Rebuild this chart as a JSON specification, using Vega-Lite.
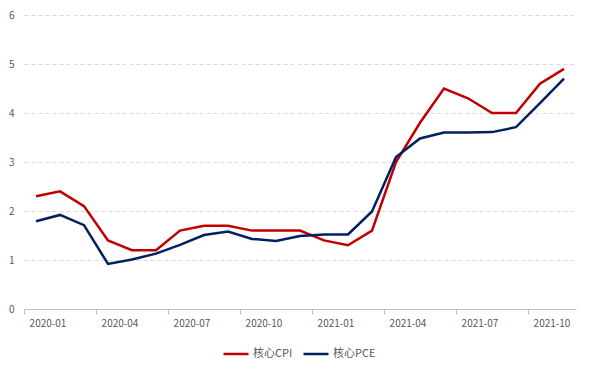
{
  "$schema": "https://vega.github.io/schema/vega-lite/v6.json",
  "width": 552,
  "height": 294,
  "autosize": {"type": "none"},
  "padding": {"left": 24, "top": 15, "right": 15, "bottom": 63},
  "background": "white",
  "config": {
    "view": {"stroke": null},
    "font": "Noto Sans CJK SC"
  },
  "data": {
    "values": [
      {"month": "2020-01", "series": "核心CPI", "value": 2.3},
      {"month": "2020-02", "series": "核心CPI", "value": 2.4},
      {"month": "2020-03", "series": "核心CPI", "value": 2.1},
      {"month": "2020-04", "series": "核心CPI", "value": 1.4},
      {"month": "2020-05", "series": "核心CPI", "value": 1.2},
      {"month": "2020-06", "series": "核心CPI", "value": 1.2},
      {"month": "2020-07", "series": "核心CPI", "value": 1.6},
      {"month": "2020-08", "series": "核心CPI", "value": 1.7},
      {"month": "2020-09", "series": "核心CPI", "value": 1.7},
      {"month": "2020-10", "series": "核心CPI", "value": 1.6},
      {"month": "2020-11", "series": "核心CPI", "value": 1.6},
      {"month": "2020-12", "series": "核心CPI", "value": 1.6},
      {"month": "2021-01", "series": "核心CPI", "value": 1.4},
      {"month": "2021-02", "series": "核心CPI", "value": 1.3},
      {"month": "2021-03", "series": "核心CPI", "value": 1.6},
      {"month": "2021-04", "series": "核心CPI", "value": 3.0},
      {"month": "2021-05", "series": "核心CPI", "value": 3.8},
      {"month": "2021-06", "series": "核心CPI", "value": 4.5},
      {"month": "2021-07", "series": "核心CPI", "value": 4.3},
      {"month": "2021-08", "series": "核心CPI", "value": 4.0},
      {"month": "2021-09", "series": "核心CPI", "value": 4.0},
      {"month": "2021-10", "series": "核心CPI", "value": 4.6},
      {"month": "2021-11", "series": "核心CPI", "value": 4.9},
      {"month": "2020-01", "series": "核心PCE", "value": 1.79},
      {"month": "2020-02", "series": "核心PCE", "value": 1.92},
      {"month": "2020-03", "series": "核心PCE", "value": 1.71},
      {"month": "2020-04", "series": "核心PCE", "value": 0.92},
      {"month": "2020-05", "series": "核心PCE", "value": 1.01},
      {"month": "2020-06", "series": "核心PCE", "value": 1.13},
      {"month": "2020-07", "series": "核心PCE", "value": 1.31},
      {"month": "2020-08", "series": "核心PCE", "value": 1.51},
      {"month": "2020-09", "series": "核心PCE", "value": 1.58},
      {"month": "2020-10", "series": "核心PCE", "value": 1.43},
      {"month": "2020-11", "series": "核心PCE", "value": 1.39},
      {"month": "2020-12", "series": "核心PCE", "value": 1.49},
      {"month": "2021-01", "series": "核心PCE", "value": 1.52},
      {"month": "2021-02", "series": "核心PCE", "value": 1.52},
      {"month": "2021-03", "series": "核心PCE", "value": 1.99},
      {"month": "2021-04", "series": "核心PCE", "value": 3.1},
      {"month": "2021-05", "series": "核心PCE", "value": 3.48},
      {"month": "2021-06", "series": "核心PCE", "value": 3.6},
      {"month": "2021-07", "series": "核心PCE", "value": 3.6},
      {"month": "2021-08", "series": "核心PCE", "value": 3.61},
      {"month": "2021-09", "series": "核心PCE", "value": 3.71},
      {"month": "2021-10", "series": "核心PCE", "value": 4.2},
      {"month": "2021-11", "series": "核心PCE", "value": 4.7}
    ]
  },
  "mark": {"type": "line", "strokeWidth": 2.5, "strokeJoin": "miter"},
  "encoding": {
    "x": {
      "field": "month",
      "type": "ordinal",
      "sort": null,
      "scale": {"type": "band", "paddingInner": 0, "paddingOuter": 0},
      "axis": {
        "title": null,
        "values": ["2020-01", "2020-04", "2020-07", "2020-10", "2021-01", "2021-04", "2021-07", "2021-10"],
        "bandPosition": 0,
        "labelOffset": 12,
        "labelAngle": 0,
        "labelFontSize": 10,
        "labelColor": "#595959",
        "labelPadding": 4,
        "domainColor": "#bfbfbf",
        "tickColor": "#bfbfbf",
        "tickSize": 5,
        "ticks": true,
        "grid": false
      }
    },
    "y": {
      "field": "value",
      "type": "quantitative",
      "scale": {"domain": [0, 6], "nice": false},
      "axis": {
        "title": null,
        "values": [0, 1, 2, 3, 4, 5, 6],
        "labelOverlap": false,
        "domain": false,
        "ticks": false,
        "labelFontSize": 10,
        "labelColor": "#595959",
        "labelPadding": 10,
        "grid": true,
        "gridColor": "#d9d9d9",
        "gridDash": [4, 3]
      }
    },
    "color": {
      "field": "series",
      "type": "nominal",
      "scale": {"domain": ["核心CPI", "核心PCE"], "range": ["#C00000", "#002060"]},
      "legend": {
        "title": null,
        "orient": "none",
        "direction": "horizontal",
        "legendX": 198,
        "legendY": 325,
        "symbolType": "stroke",
        "symbolSize": 625,
        "symbolStrokeWidth": 2.5,
        "labelFontSize": 11,
        "labelColor": "#595959",
        "labelOffset": 3,
        "columnPadding": 5
      }
    }
  }
}
